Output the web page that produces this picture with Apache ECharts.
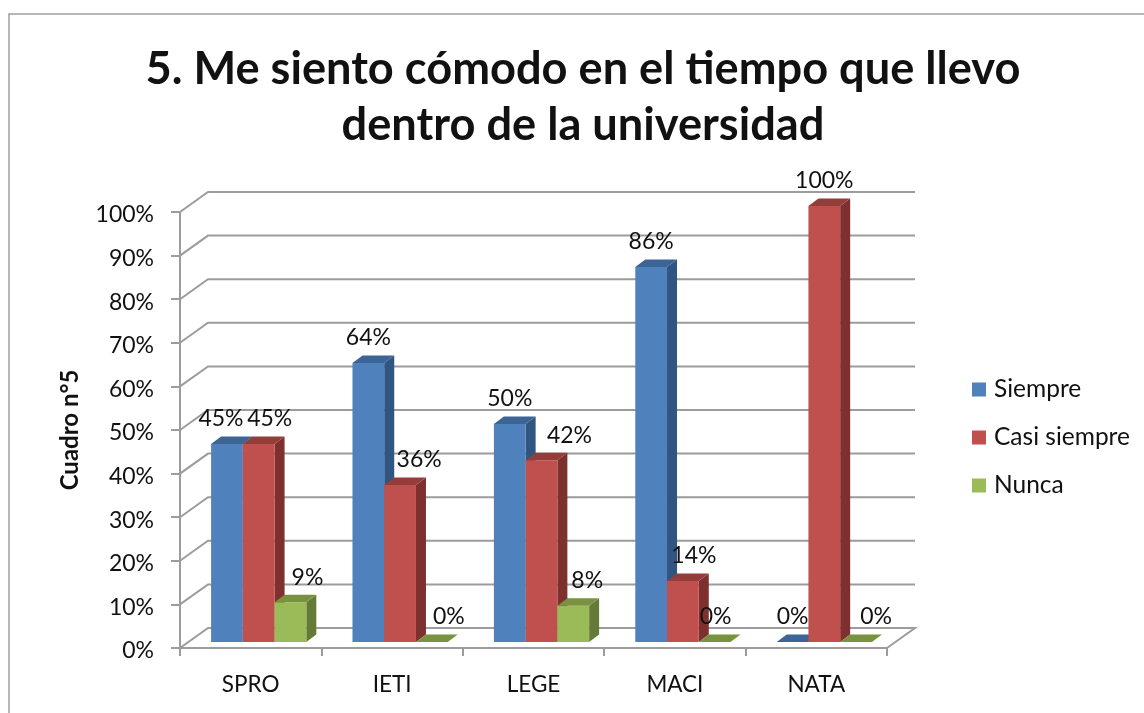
<!DOCTYPE html>
<html>
<head>
<meta charset="utf-8">
<style>
  html, body { margin: 0; padding: 0; background: #fff; }
  #chart { width: 1144px; height: 713px; }
</style>
<script src="https://cdn.jsdelivr.net/npm/echarts@6/dist/echarts.min.js"></script>
</head>
<body>
<div id="chart"></div>
<script>
const categories = ['SPRO', 'IETI', 'LEGE', 'MACI', 'NATA']
const siempre = [45.4, 64, 50, 86, 0]
const casiSiempre = [45.4, 36, 41.7, 14, 100]
const nunca = [9.1, 0, 8.3, 0, 0]
const yTicks = [0, 10, 20, 30, 40, 50, 60, 70, 80, 90, 100]

// hand-moved data labels in the original, px from the bar centre
const siempreShift = [-6, 0, 0, 0, 0]
const casiShift = [11, 19, 28, 11, 0]
const nuncaShift = [17, 17, 14, 1, 20]

const fontName = 'Lato, "Noto Sans", sans-serif'
const textColor = '#111'
const lineColor = '#9c9c9c'

// 3d look: wall depth and bar depth in px
const wallDx = 28
const wallDy = -20
const barPlaneDx = 8
const barPlaneDy = -6
const barDx = 10
const barDy = -7.5

const makeBars = (name, values, shifts, index, front, top, side) => ({
  name,
  type: 'custom',
  itemStyle: { color: front },
  encode: { x: 0, y: 1 },
  data: values.map((v, i) => [i, v]),
  clip: false,
  renderItem: (params, api) => {
    const i = api.value(0)
    const v = api.value(1)
    const p = api.coord([i, v])
    const base = api.coord([i, 0])
    const barW = api.size([1, 0])[0] * 0.2245
    const x1 = p[0] + barPlaneDx + (index - 1.5) * barW
    const x2 = x1 + barW
    const yTop = p[1] + barPlaneDy
    const yBase = base[1] + barPlaneDy
    const children = []
    if (v > 0) {
      children.push({
        type: 'polygon',
        shape: { points: [[x2, yTop], [x2 + barDx, yTop + barDy], [x2 + barDx, yBase + barDy], [x2, yBase]] },
        style: { fill: side }
      })
      children.push({
        type: 'rect',
        shape: { x: x1, y: yTop, width: barW, height: yBase - yTop },
        style: { fill: front }
      })
    }
    children.push({
      type: 'polygon',
      shape: { points: [[x1, yTop], [x1 + barDx, yTop + barDy], [x2 + barDx, yTop + barDy], [x2, yTop]] },
      style: { fill: top }
    })
    children.push({
      type: 'text',
      style: {
        text: Math.round(v) + '%',
        x: (x1 + x2) / 2 + shifts[i],
        y: yTop - 25,
        fill: textColor,
        font: '23px ' + fontName,
        align: 'center',
        verticalAlign: 'middle'
      }
    })
    return { type: 'group', children }
  }
})

const option = {
  backgroundColor: '#fff',
  animation: false,
  title: {
    text: '5. Me siento cómodo en el tiempo que llevo\ndentro de la universidad',
    left: 578,
    top: 36,
    textAlign: 'center',
    textStyle: {
      fontFamily: fontName,
      fontWeight: 'bold',
      fontSize: 45.2,
      lineHeight: 56,
      color: '#111'
    }
  },
  legend: {
    data: ['Siempre', 'Casi siempre', 'Nunca'],
    orient: 'vertical',
    left: 967,
    top: 372,
    icon: 'rect',
    itemWidth: 14,
    itemHeight: 14,
    itemGap: 23,
    textStyle: { fontFamily: fontName, fontSize: 24.5, color: textColor, padding: [0, 0, 0, 3] }
  },
  grid: { left: 180, top: 212, width: 707, height: 436 },
  xAxis: {
    type: 'category',
    data: categories,
    axisLine: { lineStyle: { color: lineColor, width: 2 } },
    axisTick: { show: true, length: 8, lineStyle: { color: lineColor, width: 2 } },
    axisLabel: { fontFamily: fontName, fontSize: 22.5, color: textColor, margin: 25 }
  },
  yAxis: {
    type: 'value',
    min: 0,
    max: 100,
    interval: 10,
    name: 'Cuadro n°5',
    nameLocation: 'middle',
    nameGap: 98,
    nameTextStyle: { fontFamily: fontName, fontSize: 24, fontWeight: 'bold', color: textColor },
    axisLine: { show: true, lineStyle: { color: lineColor, width: 2 } },
    axisTick: { show: true, length: 9, lineStyle: { color: lineColor, width: 2 } },
    axisLabel: { formatter: '{value}%', fontFamily: fontName, fontSize: 23, color: textColor, margin: 26, verticalAlign: 'top', lineHeight: 6 },
    splitLine: { show: false }
  },
  graphic: [{
    type: 'rect',
    silent: true,
    z: -1,
    shape: { x: 9, y: 14, width: 1300, height: 900 },
    style: { fill: 'none', stroke: '#a0a0a0', lineWidth: 1.5 }
  }],
  series: [
    {
      name: 'pared',
      type: 'custom',
      encode: { x: 0, y: 1 },
      data: yTicks.map(v => [0, v]),
      clip: false,
      silent: true,
      renderItem: (params, api) => {
        const y = api.coord([0, api.value(1)])[1]
        const left = params.coordSys.x
        const right = left + params.coordSys.width
        const pts = [[left, y], [left + wallDx, y + wallDy], [right + wallDx, y + wallDy]]
        if (api.value(1) === 0) pts.push([right, y])
        return {
          type: 'polyline',
          shape: { points: pts },
          style: { fill: 'none', stroke: lineColor, lineWidth: 2 }
        }
      }
    },
    makeBars('Siempre', siempre, siempreShift, 0, '#4f81bd', '#3c6494', '#2f5580'),
    makeBars('Casi siempre', casiSiempre, casiShift, 1, '#c0504d', '#943e3b', '#7d302e'),
    makeBars('Nunca', nunca, nuncaShift, 2, '#9bbb59', '#79923f', '#667a38')
  ]
}

const chart = echarts.init(document.getElementById('chart'))
chart.setOption(option)
</script>
</body>
</html>
